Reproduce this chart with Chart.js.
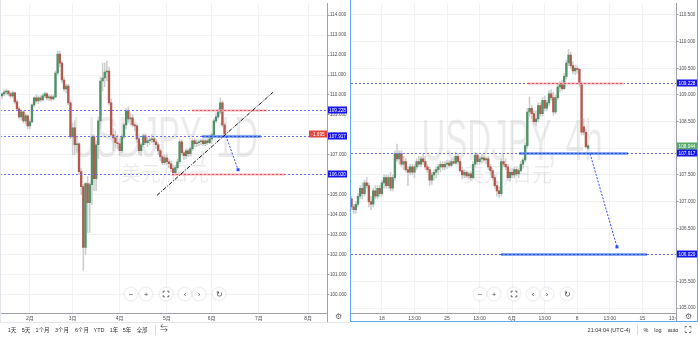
<!DOCTYPE html>
<html>
<head>
<meta charset="utf-8">
<script src="https://cdn.jsdelivr.net/npm/chart.js@4.4.1/dist/chart.umd.min.js"></script>
<style>
  html, body { margin: 0; padding: 0; background: #fff; }
  body { width: 698px; height: 340px; position: relative; overflow: hidden; font-family: "Liberation Sans", Arial, "Noto Sans CJK SC", sans-serif; }
  canvas { position: absolute; top: 0; }
  #daily { left: 0; }
  #h4 { left: 351px; }
  #sel { position: absolute; left: 350px; top: -2px; width: 348px; height: 324px; border: 1px solid #62a8ee; box-sizing: border-box; }
  .hl { position: absolute; background: #e3e6ec; }
  .zb { position: absolute; width: 13px; height: 13px; border-radius: 50%; background: #fff; box-shadow: 0 0 2px rgba(0,0,0,.22);
        transform: translate(-50%, -50%); display: flex; align-items: center; justify-content: center; font-size: 8px; color: #555; line-height: 1; }
  .tb { position: absolute; top: 327px; font-size: 5.5px; color: #333; line-height: 7px; transform: translateX(-50%); white-space: nowrap; }
  .sep { position: absolute; width: 1px; height: 10px; top: 325px; background: #d8dbe2; }
  .gear { position: absolute; top: 317px; font-size: 8px; color: #666; transform: translate(-50%, -50%); line-height: 1; }
</style>
</head>
<body>
<canvas id="daily" width="347" height="322"></canvas>
<canvas id="h4" width="346" height="322"></canvas>
<div id="sel"></div>
<div class="hl" style="left:0;top:322px;width:350px;height:1px"></div>
<div class="hl" style="left:0;top:0;width:1px;height:322px"></div>

<script>
// ---- daily USDJPY (left panel) ----
const dailyOpen  = [109.95,110.05,110.15,110.20,110.05,109.95,110.10,109.65,109.30,108.90,109.15,108.70,108.95,108.45,108.65,109.50,109.85,109.70,109.85,109.75,
                    109.95,110.05,109.85,109.90,109.80,109.90,111.10,112.05,111.60,110.75,110.30,110.45,109.60,107.90,108.35,107.50,107.55,106.15,105.40,102.35,
                    105.55,104.60,105.50,107.90,105.80,107.50,108.70,110.70,110.85,111.15,111.20,109.60,108.00,107.85,107.60,107.55,107.20,107.90,108.50,109.20,
                    108.80,108.85,108.50,108.45,107.80,107.20,107.50,107.95,107.60,107.70,107.75,107.80,107.65,107.50,107.20,106.90,106.60,106.85,106.65,106.55,
                    106.30,106.10,106.35,106.65,107.65,107.10,106.95,107.20,107.05,107.30,107.70,107.55,107.60,107.65,107.70,107.55,107.70,107.60,107.80,108.00,
                    108.70,108.90,109.15,109.60,108.50];
const dailyHigh  = [110.10,110.25,110.30,110.25,110.15,110.20,110.15,109.75,109.40,109.25,109.20,109.05,109.00,108.75,109.55,109.90,110.00,109.95,109.95,110.05,
                    110.15,110.10,110.00,110.00,110.00,111.20,112.20,112.20,111.70,110.90,110.55,110.55,109.70,108.60,108.70,107.90,107.60,106.30,105.50,105.60,
                    105.90,105.60,108.00,108.00,107.70,108.90,110.90,111.60,111.60,111.70,111.40,109.80,108.30,108.20,108.00,107.80,108.00,108.60,109.30,109.40,
                    109.10,109.00,108.60,108.50,107.95,107.60,108.05,108.05,107.90,107.85,108.00,107.90,107.80,107.60,107.30,107.00,107.00,107.05,106.80,106.70,
                    106.45,106.45,106.80,107.75,107.75,107.15,107.30,107.30,107.40,107.75,107.80,107.75,107.75,107.80,107.80,107.80,107.80,107.95,108.10,108.80,
                    109.10,109.30,109.85,109.70,108.60];
const dailyLow   = [109.80,109.95,110.00,109.95,109.85,109.85,109.55,109.20,108.80,108.75,108.60,108.55,108.30,108.30,108.60,109.40,109.60,109.55,109.65,109.70,
                    109.85,109.75,109.70,109.70,109.75,109.85,111.00,111.40,110.60,110.20,110.10,109.50,107.80,107.00,107.00,107.10,106.00,105.00,101.20,102.00,
                    103.10,103.10,104.50,105.20,105.20,106.80,108.30,110.20,110.40,110.70,109.50,107.90,107.20,107.35,107.30,106.95,107.10,107.80,108.30,108.60,
                    108.50,108.40,108.20,107.60,107.00,106.95,107.40,107.50,107.40,107.50,107.60,107.50,107.30,107.00,106.70,106.50,106.50,106.50,106.35,106.15,
                    105.95,105.98,106.25,106.55,107.00,106.75,106.80,106.90,106.95,107.20,107.40,107.40,107.45,107.50,107.45,107.45,107.50,107.55,107.55,107.90,
                    108.60,108.80,109.05,108.40,107.95];
const dailyClose = [110.05,110.15,110.20,110.05,109.95,110.10,109.65,109.30,108.90,109.15,108.70,108.95,108.45,108.65,109.50,109.85,109.70,109.85,109.75,109.95,
                    110.05,109.85,109.90,109.80,109.90,111.10,112.05,111.60,110.75,110.30,110.45,109.60,107.90,108.35,107.50,107.55,106.15,105.40,102.35,105.55,
                    104.60,105.50,107.90,105.80,107.50,108.70,110.70,110.85,111.15,111.20,109.60,108.00,107.85,107.60,107.55,107.20,107.90,108.50,109.20,108.80,
                    108.85,108.50,108.45,107.80,107.20,107.50,107.95,107.60,107.70,107.75,107.80,107.65,107.50,107.20,106.90,106.60,106.85,106.65,106.55,106.30,
                    106.10,106.35,106.65,107.65,107.10,106.95,107.20,107.05,107.30,107.70,107.55,107.60,107.65,107.70,107.55,107.70,107.60,107.80,108.00,108.70,
                    108.90,109.15,109.60,108.50,108.05];
const dailyTicks = [100, 101, 102, 103, 104, 105, 106, 107, 108, 109, 110, 111, 112, 113, 114];
const monthLabels = ['2月', '3月', '4月', '5月', '6月', '7月', '8月'];
const monthStarts = [13, 33, 55, 77, 98, 120, 143];   // bar index of first trading day

// ---- 4h USDJPY (right panel) ----
const h4Open  = [107.05,106.90,106.85,106.95,107.10,107.25,107.15,107.35,107.30,107.00,106.95,107.20,107.10,107.25,107.15,107.35,107.45,107.30,107.45,107.25,
                 107.45,107.90,107.80,107.90,107.70,107.75,107.60,107.55,107.65,107.55,107.65,107.75,107.70,107.80,107.75,107.65,107.60,107.40,107.50,107.55,
                 107.60,107.65,107.70,107.65,107.70,107.72,107.68,107.75,107.72,107.85,107.75,107.58,107.50,107.55,107.48,107.52,107.45,107.70,107.87,107.75,
                 107.80,107.82,107.78,107.80,107.65,107.58,107.45,107.30,107.20,107.15,107.75,107.70,107.65,107.45,107.55,107.50,107.60,107.52,107.58,107.70,
                 107.78,108.05,108.68,108.75,108.65,108.50,108.55,108.80,108.65,108.90,108.75,108.85,109.02,108.95,108.68,108.95,109.15,109.20,109.12,109.35,
                 109.60,109.75,109.55,109.45,109.50,109.48,109.22,108.40,108.30,108.00];
const h4High  = [107.10,106.95,107.00,107.15,107.30,107.35,107.40,107.45,107.35,107.10,107.25,107.30,107.30,107.30,107.40,107.50,107.50,107.50,107.55,107.50,
                 107.95,108.08,107.95,107.95,107.85,107.80,107.65,107.70,107.70,107.70,107.80,107.85,107.85,107.90,107.85,107.70,107.65,107.55,107.60,107.65,
                 107.70,107.75,107.75,107.75,107.78,107.78,107.80,107.82,107.93,107.90,107.80,107.65,107.60,107.58,107.55,107.56,107.75,107.92,107.90,107.85,
                 107.88,107.86,107.84,107.85,107.70,107.62,107.50,107.38,107.28,107.80,107.90,107.80,107.70,107.60,107.62,107.65,107.65,107.62,107.75,107.82,
                 108.10,108.75,108.96,108.80,108.70,108.70,108.85,108.85,108.95,108.98,108.90,109.08,109.10,109.05,109.00,109.20,109.25,109.28,109.40,109.65,
                 109.85,109.80,109.62,109.55,109.55,109.50,109.25,108.55,108.35,108.08];
const h4Low   = [106.85,106.78,106.78,106.90,107.05,107.05,107.10,107.25,106.90,106.85,106.90,107.05,107.05,107.10,107.10,107.25,107.25,107.25,107.20,107.20,
                 107.40,107.75,107.70,107.65,107.60,107.55,107.30,107.50,107.50,107.45,107.60,107.65,107.65,107.70,107.60,107.55,107.30,107.32,107.40,107.45,
                 107.50,107.55,107.60,107.60,107.62,107.64,107.65,107.70,107.70,107.70,107.55,107.43,107.45,107.45,107.42,107.40,107.43,107.65,107.70,107.70,
                 107.72,107.74,107.70,107.60,107.50,107.40,107.25,107.10,107.08,107.10,107.65,107.60,107.40,107.38,107.45,107.45,107.48,107.45,107.55,107.62,
                 107.75,108.00,108.60,108.55,108.45,108.42,108.50,108.60,108.60,108.70,108.70,108.80,108.90,108.62,108.65,108.90,109.05,109.08,109.10,109.30,
                 109.55,109.50,109.40,109.38,109.40,109.15,108.25,108.25,108.00,107.97];
const h4Close = [106.90,106.85,106.95,107.10,107.25,107.15,107.35,107.30,107.00,106.95,107.20,107.10,107.25,107.15,107.35,107.45,107.30,107.45,107.25,107.45,
                 107.90,107.80,107.90,107.70,107.75,107.60,107.55,107.65,107.55,107.65,107.75,107.70,107.80,107.75,107.65,107.60,107.40,107.50,107.55,107.60,
                 107.65,107.70,107.65,107.70,107.72,107.68,107.75,107.72,107.85,107.75,107.58,107.50,107.55,107.48,107.52,107.45,107.70,107.87,107.75,107.80,
                 107.82,107.78,107.80,107.65,107.58,107.45,107.30,107.20,107.15,107.75,107.70,107.65,107.45,107.55,107.50,107.60,107.52,107.58,107.70,107.78,
                 108.05,108.68,108.75,108.65,108.50,108.55,108.80,108.65,108.90,108.75,108.85,109.02,108.95,108.68,108.95,109.15,109.20,109.12,109.35,109.60,
                 109.75,109.55,109.45,109.50,109.48,109.22,108.30,108.30,108.03,108.044];
const h4Ticks = [105, 105.5, 106, 106.5, 107, 107.5, 108, 108.5, 109, 109.5, 110, 110.5];
const h4TimeLabels = ['18', '13:00', '25', '13:00', '6月', '13:00', '8', '13:00', '15', '13:00'];
const h4TimePos    = [14, 29, 44, 59, 74, 89, 104, 119, 134, 149];

// price levels drawn on both panels
const levels = [109.228, 107.917, 106.020];
const lastPrice = 108.044;

// drawings, in [bar index, price] terms
const dailyDraw = {
  red:   [[88.8, 123.8, 109.228], [79.4, 132.2, 106.020]],
  blue:  [[93.5, 121.0, 107.917]],
  trend: [72.4, 104.96, 126.6, 110.13],
  arrow: [104.7, 107.94, 110.3, 106.25]
};
const h4Draw = {
  red:   [[81.3, 125.6, 109.228]],
  blue:  [[77.2, 127.4, 107.917], [68.9, 136.2, 106.020]],
  trend: null,
  arrow: [109.9, 107.90, 122.3, 106.15]
};

const UP = '#4f9168', DOWN = '#b4594d', WICK = '#cdcdcd';
const GRID = '#f1f2f5', AXIS = '#9ea1a9', LABEL = '#4a4a4a';
Chart.defaults.font.family = 'Arial, "Liberation Sans", "Noto Sans CJK SC", sans-serif';

function box(ctx, x, yc, w, txt, bg) {
  ctx.fillStyle = bg;
  ctx.fillRect(x, Math.round(yc) - 3.5, w, 7);
  ctx.fillStyle = '#fff';
  ctx.font = '4.7px Arial, sans-serif';
  ctx.textAlign = 'center';
  ctx.textBaseline = 'middle';
  ctx.fillText(txt, x + w / 2, Math.round(yc) + 0.3);
}

function overlay(p) {
  return {
    id: 'overlay',
    beforeDatasetsDraw(chart) {
      const ctx = chart.ctx;
      ctx.save();
      ctx.fillStyle = 'rgba(0,0,0,0.08)';
      ctx.font = '58px "Liberation Sans", Arial, sans-serif';
      ctx.textAlign = 'center';
      ctx.textBaseline = 'alphabetic';
      const w = ctx.measureText(p.title).width;
      ctx.translate(p.titleAt[0], p.titleAt[1]);
      ctx.scale(p.titleAt[2] / w, 1);
      ctx.fillText(p.title, 0, 0);
      ctx.restore();
      ctx.save();
      ctx.fillStyle = 'rgba(0,0,0,0.08)';
      ctx.font = '20px "Noto Sans CJK SC", sans-serif';
      ctx.textAlign = 'center';
      ctx.textBaseline = 'middle';
      ctx.fillText('美元/日元', p.subAt[0], p.subAt[1]);
      ctx.restore();
    },
    afterDatasetsDraw(chart) {
      const {ctx, chartArea: a, scales: {x, y}} = chart;
      const d = p.draw;
      ctx.save();
      ctx.beginPath();
      ctx.rect(a.left, a.top, a.right - a.left, a.bottom - a.top);
      ctx.clip();
      // dotted price levels
      ctx.lineWidth = 1;
      ctx.strokeStyle = '#6f6fff';
      ctx.setLineDash([2, 2]);
      levels.forEach(v => {
        const py = Math.round(y.getPixelForValue(v)) + 0.5;
        ctx.beginPath(); ctx.moveTo(a.left, py); ctx.lineTo(a.right, py); ctx.stroke();
      });
      // red rays
      d.red.forEach(([i0, i1, v]) => {
        const py = Math.round(y.getPixelForValue(v)) + 0.5;
        ctx.setLineDash([]); ctx.lineWidth = 2.2; ctx.strokeStyle = '#f5b3bb';
        ctx.beginPath(); ctx.moveTo(x.getPixelForValue(i0), py); ctx.lineTo(x.getPixelForValue(i1), py); ctx.stroke();
        ctx.setLineDash([2, 2]); ctx.lineWidth = 1; ctx.strokeStyle = '#e0505c';
        ctx.beginPath(); ctx.moveTo(x.getPixelForValue(i0), py); ctx.lineTo(x.getPixelForValue(i1), py); ctx.stroke();
      });
      // blue rays
      d.blue.forEach(([i0, i1, v]) => {
        const py = Math.round(y.getPixelForValue(v)) + 0.5;
        ctx.setLineDash([]); ctx.lineWidth = 2.4; ctx.strokeStyle = '#6492ea';
        ctx.beginPath(); ctx.moveTo(x.getPixelForValue(i0), py); ctx.lineTo(x.getPixelForValue(i1), py); ctx.stroke();
        ctx.setLineDash([2, 2]); ctx.lineWidth = 1; ctx.strokeStyle = '#2a48d6';
        ctx.beginPath(); ctx.moveTo(x.getPixelForValue(i0), py); ctx.lineTo(x.getPixelForValue(i1), py); ctx.stroke();
      });
      // trend line
      if (d.trend) {
        ctx.setLineDash([4, 1.5, 1, 1.5]); ctx.lineWidth = 1; ctx.strokeStyle = '#111';
        ctx.beginPath();
        ctx.moveTo(x.getPixelForValue(d.trend[0]), y.getPixelForValue(d.trend[1]));
        ctx.lineTo(x.getPixelForValue(d.trend[2]), y.getPixelForValue(d.trend[3]));
        ctx.stroke();
      }
      // projection arrow
      const ax0 = x.getPixelForValue(d.arrow[0]), ay0 = y.getPixelForValue(d.arrow[1]);
      const ax1 = x.getPixelForValue(d.arrow[2]), ay1 = y.getPixelForValue(d.arrow[3]);
      ctx.setLineDash([2, 1.5]); ctx.lineWidth = 1; ctx.strokeStyle = '#2a4cff';
      ctx.beginPath(); ctx.moveTo(ax0, ay0); ctx.lineTo(ax1, ay1); ctx.stroke();
      ctx.fillStyle = '#2a4cff';
      ctx.fillRect(ax1 - 1.5, ay1 - 1.5, 3, 3);
      ctx.restore();
    },
    afterDraw(chart) {
      const {ctx, chartArea: a, scales: {y}} = chart;
      const W = chart.width, H = chart.height;
      ctx.save();
      // keep the time axis from running under the price axis
      ctx.fillStyle = '#fff';
      ctx.fillRect(a.right + 1, a.bottom + 1, W - a.right, H - a.bottom);
      ctx.strokeStyle = AXIS; ctx.lineWidth = 1;
      ctx.beginPath(); ctx.moveTo(a.right + 0.5, a.bottom); ctx.lineTo(a.right + 0.5, H); ctx.stroke();
      const bw = W - a.right - 1;
      if (p.lastBox) box(ctx, a.right + 1, y.getPixelForValue(lastPrice) + 0.5, bw, lastPrice.toFixed(3), '#56a86a');
      levels.forEach(v => box(ctx, a.right + 1, y.getPixelForValue(v), bw, v.toFixed(3), '#1515f0'));
      if (p.changeBox) box(ctx, a.right - 18, y.getPixelForValue(levels[1]) - 2.5, 18, p.changeBox, '#e0463c');
      ctx.restore();
    }
  };
}

function candleChart(id, o, h, l, c, cfg) {
  const wicks = o.map((_, i) => ({x: i, y: [l[i], h[i]]}));
  const bodies = o.map((_, i) => ({x: i, y: [o[i], c[i]]}));
  const colors = o.map((v, i) => (c[i] >= v ? UP : DOWN));
  return new Chart(document.getElementById(id), {
    type: 'bar',
    data: {
      datasets: [
        {data: wicks, backgroundColor: WICK, barThickness: 0.9, grouped: false, order: 2},
        {data: bodies, backgroundColor: colors, barThickness: 1.7, grouped: false, minBarLength: 1, order: 1}
      ]
    },
    options: {
      responsive: false,
      animation: false,
      events: [],
      layout: {padding: 0},
      plugins: {legend: {display: false}, tooltip: {enabled: false}},
      scales: {
        x: {
          type: 'linear', min: cfg.xMin, max: cfg.xMax, offset: false,
          afterFit: s => { s.height = 9; },
          afterBuildTicks: s => { s.ticks = cfg.xPos.map(v => ({value: v})); },
          ticks: {autoSkip: false, maxRotation: 0, padding: 2.5, font: {size: 5}, color: LABEL,
                  callback: (v, i) => cfg.xLabels[i]},
          grid: {color: GRID, drawTicks: false, offset: false},
          border: {color: AXIS}
        },
        y: {
          position: 'right', min: cfg.yMin, max: cfg.yMax,
          afterFit: s => { s.width = cfg.axisW; },
          afterBuildTicks: s => { s.ticks = cfg.yTicks.map(v => ({value: v})); },
          ticks: {padding: 0.5, font: {size: 4.6}, color: LABEL, callback: v => v.toFixed(3)},
          grid: {color: GRID, tickLength: 2.5, tickColor: AXIS},
          border: {color: AXIS}
        }
      }
    },
    plugins: [overlay(cfg)]
  });
}

candleChart('daily', dailyOpen, dailyHigh, dailyLow, dailyClose, {
  xMin: -0.935, xMax: 151.87, xPos: monthStarts, xLabels: monthLabels,
  yMin: 99.06, yMax: 114.6, yTicks: dailyTicks, axisW: 20,
  draw: dailyDraw, title: 'USDJPY, 1D', titleAt: [165, 157, 186], subAt: [165, 173],
  changeBox: '-1.695', lastBox: false
});

candleChart('h4', h4Open, h4High, h4Low, h4Close, {
  xMin: -0.23, xMax: 149.5, xPos: h4TimePos, xLabels: h4TimeLabels,
  yMin: 104.91, yMax: 110.72, yTicks: h4Ticks, axisW: 21,
  draw: h4Draw, title: 'USDJPY, 4h', titleAt: [161, 160, 181], subAt: [157, 174],
  changeBox: null, lastBox: true
});
</script>

<!-- chart navigation buttons -->
<div class="zb" style="left:131px;top:294px">−</div>
<div class="zb" style="left:146px;top:294px">+</div>
<div class="zb" style="left:166px;top:294px"><svg width="7" height="7" viewBox="0 0 7 7"><path d="M0.5 2.5V0.5h2M4.5 0.5h2v2M6.5 4.5v2h-2M2.5 6.5h-2v-2" fill="none" stroke="#555" stroke-width="1"/></svg></div>
<div class="zb" style="left:185px;top:294px">‹</div>
<div class="zb" style="left:199px;top:294px">›</div>
<div class="zb" style="left:219px;top:294px">↻</div>

<div class="zb" style="left:480px;top:294px">−</div>
<div class="zb" style="left:494px;top:294px">+</div>
<div class="zb" style="left:514px;top:294px"><svg width="7" height="7" viewBox="0 0 7 7"><path d="M0.5 2.5V0.5h2M4.5 0.5h2v2M6.5 4.5v2h-2M2.5 6.5h-2v-2" fill="none" stroke="#555" stroke-width="1"/></svg></div>
<div class="zb" style="left:533px;top:294px">‹</div>
<div class="zb" style="left:547px;top:294px">›</div>
<div class="zb" style="left:567px;top:294px">↻</div>

<div class="gear" style="left:338px">⚙</div>
<div class="gear" style="left:688px">⚙</div>

<!-- bottom toolbar -->
<div class="tb" style="left:12px">1天</div>
<div class="tb" style="left:26px">5天</div>
<div class="tb" style="left:42.5px">1个月</div>
<div class="tb" style="left:62px">3个月</div>
<div class="tb" style="left:82px">6个月</div>
<div class="tb" style="left:99px">YTD</div>
<div class="tb" style="left:114px">1年</div>
<div class="tb" style="left:127px">5年</div>
<div class="tb" style="left:142px">全部</div>
<div class="sep" style="left:155px"></div>
<div class="tb" style="left:164px;font-size:8px;top:325px;color:#555">⇆</div>

<div class="tb" style="left:609px">21:04:04 (UTC-4)</div>
<div class="sep" style="left:637px"></div>
<div class="tb" style="left:646px">%</div>
<div class="tb" style="left:658px">log</div>
<div class="tb" style="left:673px">auto</div>
<div class="tb" style="left:688px;top:326px"><svg width="7" height="7" viewBox="0 0 7 7"><path d="M0.5 2.5V0.5h2M4.5 0.5h2v2M6.5 4.5v2h-2M2.5 6.5h-2v-2" fill="none" stroke="#555" stroke-width="0.8"/></svg></div>
</body>
</html>
